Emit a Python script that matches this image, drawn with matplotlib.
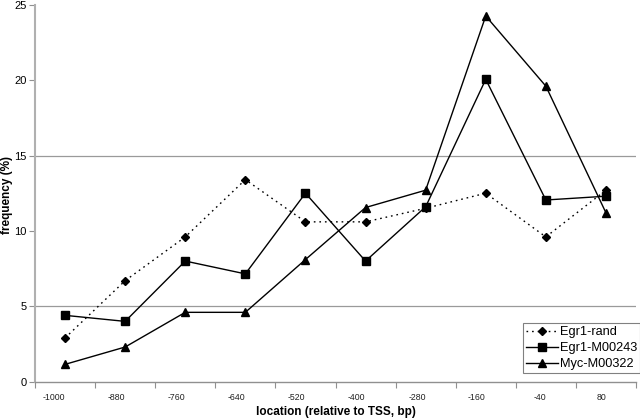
import matplotlib
matplotlib.use("Agg")
import matplotlib.pyplot as plt
import numpy as np

categories = ["-1000", "-880", "-760", "-640", "-520", "-400", "-280", "-160", "-40", "80"]
egr1_rand = [2.9, 6.7, 9.6, 13.4, 10.6, 10.6, 11.5, 12.5, 9.6, 12.7]
egr1_m00243 = [4.4, 4.0, 8.0, 7.15, 12.5, 8.0, 11.6, 20.05, 12.05, 12.3]
myc_m00322 = [1.15, 2.3, 4.6, 4.6, 8.1, 11.55, 12.7, 24.25, 19.6, 11.2]

plt.rcParams['font.family'] = ['Liberation Sans', 'DejaVu Sans']

fig = plt.figure(figsize=(6.4, 4.18), dpi=100)
ax = fig.add_axes([35/640, 1 - 381.7/418, (636-35)/640, (381.7-4.7)/418])

x = np.arange(len(categories))
ax.plot(x, egr1_rand, color='black', lw=1.0, linestyle=(0, (1.2, 2.8)), marker='D',
        markersize=4.5, label='Egr1-rand')
ax.plot(x, egr1_m00243, color='black', lw=1.0, marker='s', markersize=5.5,
        label='Egr1-M00243')
ax.plot(x, myc_m00322, color='black', lw=1.0, marker='^', markersize=5.5,
        label='Myc-M00322')

ax.set_xlim(-0.5, len(categories) - 0.5)
ax.set_ylim(0, 25)
ax.set_yticks([0, 5, 10, 15, 20, 25])
for g in [5, 15]:
    ax.axhline(g, color='#9a9a9a', lw=0.9, zorder=0)

ax.spines['top'].set_visible(False)
ax.spines['right'].set_visible(False)
ax.spines['left'].set_color('#b0b0b0')
ax.spines['left'].set_linewidth(1.5)
ax.spines['bottom'].set_color('#909090')
ax.spines['bottom'].set_linewidth(1.0)

ax.set_xticks(np.arange(-0.5, len(categories), 1.0))
ax.set_xticklabels([])
ax.tick_params(axis='x', which='major', length=4, color='#909090', direction='out')
ax.set_xticks(x, minor=True)
ax.set_xticklabels(categories, minor=True, fontsize=6.3, color='#222222')
ax.tick_params(axis='x', which='minor', length=0, pad=8)
for lbl in ax.get_xticklabels(minor=True):
    lbl.set_ha('right')
ax.tick_params(axis='y', length=4, color='#909090', pad=2, labelsize=8)

ax.set_xlabel('location (relative to TSS, bp)', fontsize=8.5, fontweight='bold')
ax.xaxis.set_label_coords(0.5, (381.7 - 411.7) / 377)
ax.xaxis.label.set_va('center')
ax.set_ylabel('frequency (%)', fontsize=8.5, fontweight='bold')
ax.yaxis.set_label_coords((7 - 35) / 601, (381.7 - 195) / 377)
ax.yaxis.label.set_va('center')

leg = ax.legend(loc='upper right', bbox_to_anchor=(640/640, 1 - 323/418),
                bbox_transform=fig.transFigure, borderaxespad=0, fontsize=9.2,
                fancybox=False, edgecolor='#808080', framealpha=1,
                handlelength=2.5, labelspacing=0.3, borderpad=0.25,
                handletextpad=0.15, handleheight=0.6)
leg.get_frame().set_linewidth(0.8)

fig.savefig('out.png', dpi=100)
